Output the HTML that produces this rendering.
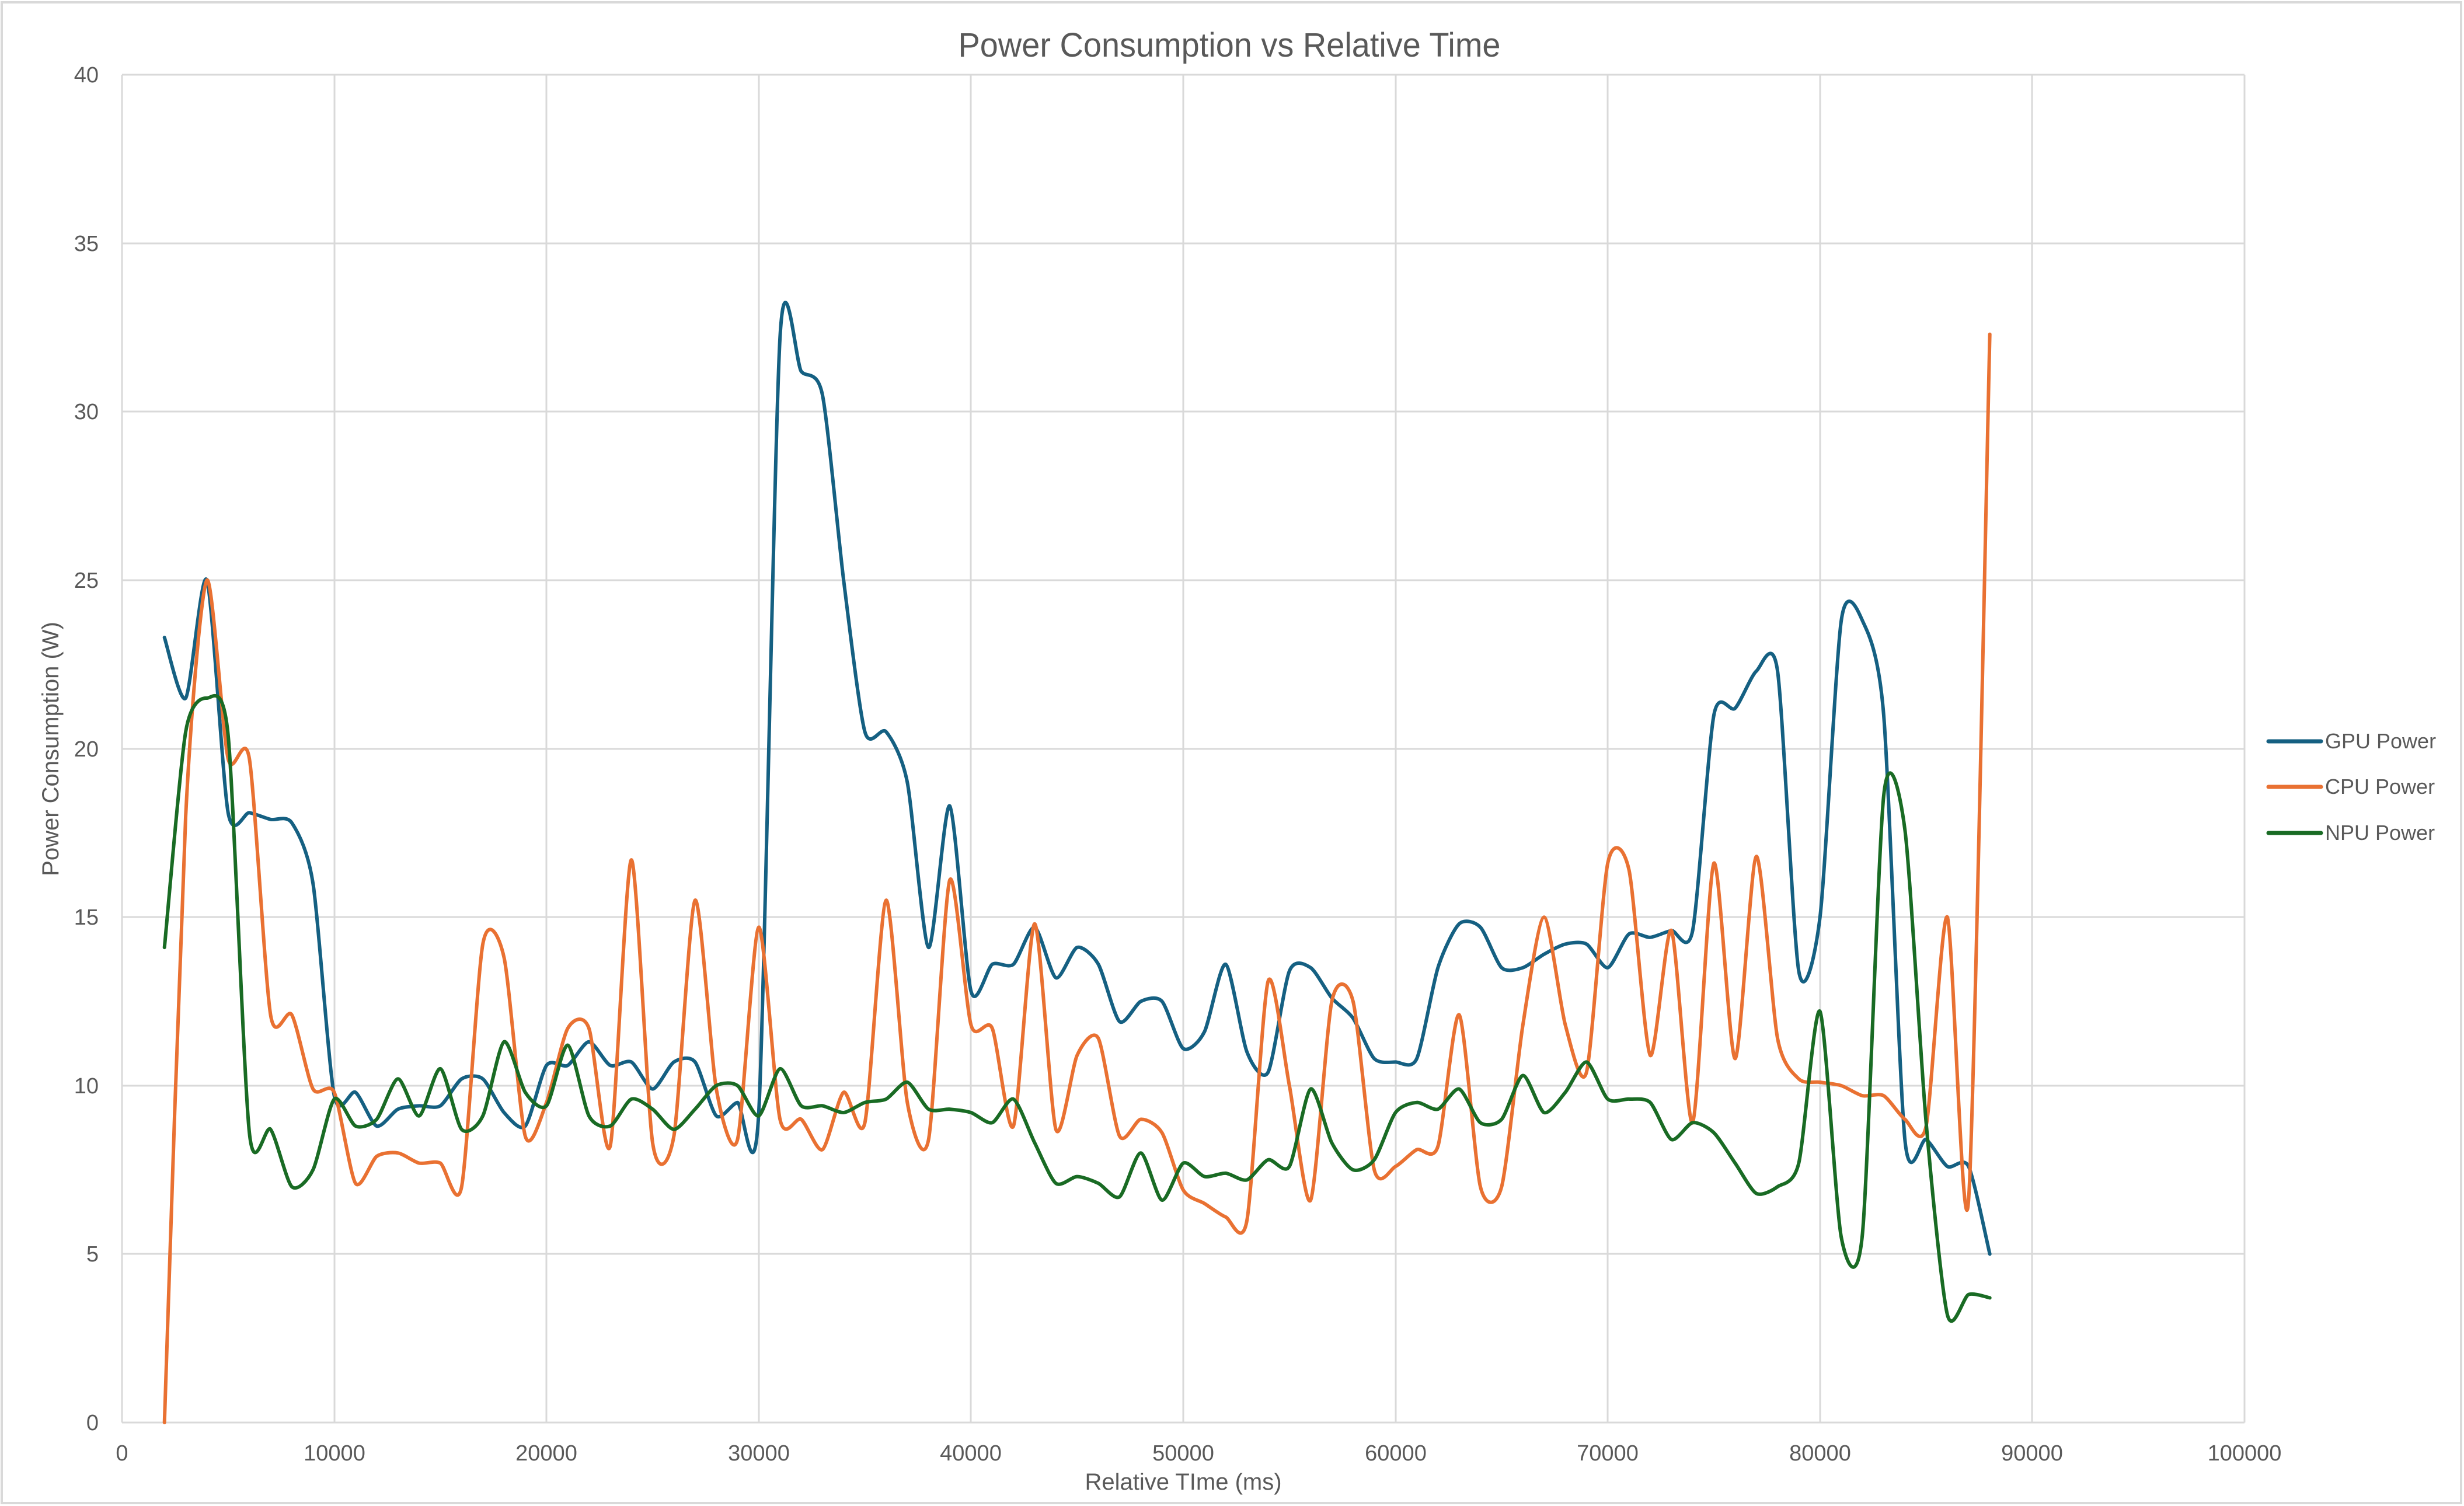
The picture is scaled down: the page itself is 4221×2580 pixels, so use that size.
<!DOCTYPE html>
<html><head><meta charset="utf-8"><style>
html,body{margin:0;padding:0;background:#fff}
svg{display:block}
text{font-family:"Liberation Sans",sans-serif;fill:#595959}
</style></head><body>
<svg id="chart" width="4221" height="2580" viewBox="0 0 4221 2580" xmlns="http://www.w3.org/2000/svg">
<rect x="3" y="4" width="4213" height="2571" fill="#fff" stroke="#d9d9d9" stroke-width="4"/>
<text x="2106" y="97" font-size="58" text-anchor="middle" textLength="929" lengthAdjust="spacingAndGlyphs">Power Consumption vs Relative Time</text>
<g stroke="#d9d9d9" stroke-width="3">
<line x1="209" y1="128" x2="209" y2="2437"/><line x1="573" y1="128" x2="573" y2="2437"/><line x1="936" y1="128" x2="936" y2="2437"/><line x1="1300" y1="128" x2="1300" y2="2437"/><line x1="1663" y1="128" x2="1663" y2="2437"/><line x1="2027" y1="128" x2="2027" y2="2437"/><line x1="2391" y1="128" x2="2391" y2="2437"/><line x1="2754" y1="128" x2="2754" y2="2437"/><line x1="3118" y1="128" x2="3118" y2="2437"/><line x1="3481" y1="128" x2="3481" y2="2437"/><line x1="3845" y1="128" x2="3845" y2="2437"/>
<line x1="209" y1="128" x2="3845" y2="128"/><line x1="209" y1="417" x2="3845" y2="417"/><line x1="209" y1="705" x2="3845" y2="705"/><line x1="209" y1="994" x2="3845" y2="994"/><line x1="209" y1="1283" x2="3845" y2="1283"/><line x1="209" y1="1571" x2="3845" y2="1571"/><line x1="209" y1="1860" x2="3845" y2="1860"/><line x1="209" y1="2148" x2="3845" y2="2148"/><line x1="209" y1="2437" x2="3845" y2="2437"/>
</g>
<g font-size="38" text-anchor="end">
<text x="169" y="141">40</text><text x="169" y="430">35</text><text x="169" y="718">30</text><text x="169" y="1007">25</text><text x="169" y="1296">20</text><text x="169" y="1584">15</text><text x="169" y="1873">10</text><text x="169" y="2161">5</text><text x="169" y="2450">0</text>
</g>
<g font-size="38" text-anchor="middle">
<text x="209" y="2502">0</text><text x="573" y="2502">10000</text><text x="936" y="2502">20000</text><text x="1300" y="2502">30000</text><text x="1663" y="2502">40000</text><text x="2027" y="2502">50000</text><text x="2391" y="2502">60000</text><text x="2754" y="2502">70000</text><text x="3118" y="2502">80000</text><text x="3481" y="2502">90000</text><text x="3845" y="2502">100000</text>
</g>
<text x="2027" y="2552" font-size="40" text-anchor="middle">Relative TIme (ms)</text>
<text transform="translate(100,1283) rotate(-90)" font-size="40" text-anchor="middle">Power Consumption (W)</text>
<g id="series" fill="none" stroke-width="6" stroke-linejoin="round" stroke-linecap="round">
<polyline class="s" stroke="#156082" data-p="2,23.3 3,21.5 4,25 5,18.1 6,18.1 7,17.9 8,17.8 9,16 10,9.7 11,9.8 12,8.8 13,9.3 14,9.4 15,9.4 16,10.2 17,10.2 18,9.2 19,8.8 20,10.6 21,10.6 22,11.3 23,10.6 24,10.7 25,9.9 26,10.7 27,10.7 28,9.1 29,9.5 30,9.2 31,32.2 32,31.2 33,30.5 34,25 35,20.5 36,20.5 37,19 38,14.1 39,18.3 40,12.8 41,13.6 42,13.6 43,14.7 44,13.2 45,14.1 46,13.6 47,11.9 48,12.5 49,12.5 50,11.1 51,11.6 52,13.6 53,11 54,10.4 55,13.4 56,13.5 57,12.6 58,12 59,10.8 60,10.7 61,10.8 62,13.5 63,14.8 64,14.7 65,13.5 66,13.5 67,13.9 68,14.2 69,14.2 70,13.5 71,14.5 72,14.4 73,14.6 74,14.6 75,21 76,21.2 77,22.3 78,22.3 79,13.4 80,15 81,23.8 82,23.8 83,21 84,8.4 85,8.4 86,7.6 87,7.6 88,5"/>
<polyline class="s" stroke="#E97132" data-p="2,0 3,18 4,25 5,19.7 6,19.7 7,12.1 8,12.1 9,9.9 10,9.8 11,7.1 12,7.9 13,8 14,7.7 15,7.7 16,7 17,14.2 18,13.8 19,8.5 20,9.5 21,11.7 22,11.7 23,8.2 24,16.7 25,8.3 26,8.5 27,15.5 28,9.9 29,8.4 30,14.7 31,9 32,9 33,8.1 34,9.8 35,8.9 36,15.5 37,9.5 38,8.4 39,16.1 40,11.8 41,11.7 42,8.8 43,14.8 44,8.7 45,10.9 46,11.4 47,8.5 48,9 49,8.6 50,6.9 51,6.5 52,6.1 53,6 54,13.1 55,10 56,6.6 57,12.5 58,12.5 59,7.5 60,7.6 61,8.1 62,8.2 63,12.1 64,7 65,7 66,11.8 67,15 68,11.8 69,10.4 70,16.6 71,16.4 72,10.9 73,14.6 74,8.9 75,16.6 76,10.8 77,16.8 78,11.4 79,10.2 80,10.1 81,10 82,9.7 83,9.7 84,9 85,8.8 86,15 87,6.6 88,32.3"/>
<polyline class="s" stroke="#196B24" data-p="2,14.1 3,20.5 4,21.5 5,20.4 6,8.6 7,8.7 8,7 9,7.5 10,9.6 11,8.8 12,9 13,10.2 14,9.1 15,10.5 16,8.7 17,9.1 18,11.3 19,9.8 20,9.4 21,11.2 22,9.1 23,8.8 24,9.6 25,9.3 26,8.7 27,9.3 28,10 29,10 30,9.1 31,10.5 32,9.4 33,9.4 34,9.2 35,9.5 36,9.6 37,10.1 38,9.3 39,9.3 40,9.2 41,8.9 42,9.6 43,8.3 44,7.1 45,7.3 46,7.1 47,6.7 48,8 49,6.6 50,7.7 51,7.3 52,7.4 53,7.2 54,7.8 55,7.6 56,9.9 57,8.3 58,7.5 59,7.8 60,9.2 61,9.5 62,9.3 63,9.9 64,8.9 65,9 66,10.3 67,9.2 68,9.8 69,10.7 70,9.6 71,9.6 72,9.5 73,8.4 74,8.9 75,8.6 76,7.7 77,6.8 78,7 79,7.7 80,12.2 81,5.5 82,5.6 83,18.6 84,17.6 85,8.9 86,3.2 87,3.8 88,3.7"/>
</g>
<g stroke-width="7" stroke-linecap="round">
<line x1="3886" y1="1270" x2="3976" y2="1270" stroke="#156082"/>
<line x1="3886" y1="1348" x2="3976" y2="1348" stroke="#E97132"/>
<line x1="3886" y1="1427" x2="3976" y2="1427" stroke="#196B24"/>
</g>
<g font-size="36">
<text x="3983" y="1282">GPU Power</text>
<text x="3983" y="1360">CPU Power</text>
<text x="3983" y="1439">NPU Power</text>
</g>
</svg>
<script>
(function(){
var NS="http://www.w3.org/2000/svg";
var ps=document.querySelectorAll("polyline.s");
var T=8;
for(var k=0;k<ps.length;k++){
 var el=ps[k];
 var pts=el.getAttribute("data-p").trim().split(/\s+/).map(function(s){var a=s.split(",");return [209+parseFloat(a[0])*36.36, 2437-parseFloat(a[1])*57.72];});
 el.setAttribute("points",pts.map(function(p){return p[0].toFixed(1)+","+p[1].toFixed(1)}).join(" "));
 var d="M"+pts[0][0].toFixed(1)+","+pts[0][1].toFixed(1);
 for(var i=0;i<pts.length-1;i++){
  var p0=pts[i>0?i-1:i],p1=pts[i],p2=pts[i+1],p3=pts[i+2<pts.length?i+2:i+1];
  var c1x=p1[0]+(p2[0]-p0[0])/T,c1y=p1[1]+(p2[1]-p0[1])/T;
  var c2x=p2[0]-(p3[0]-p1[0])/T,c2y=p2[1]-(p3[1]-p1[1])/T;
  d+=" C"+c1x.toFixed(1)+","+c1y.toFixed(1)+" "+c2x.toFixed(1)+","+c2y.toFixed(1)+" "+p2[0].toFixed(1)+","+p2[1].toFixed(1);
 }
 var path=document.createElementNS(NS,"path");
 path.setAttribute("d",d);
 path.setAttribute("stroke",el.getAttribute("stroke"));
 el.parentNode.replaceChild(path,el);
}
})();
</script>
</body></html>
